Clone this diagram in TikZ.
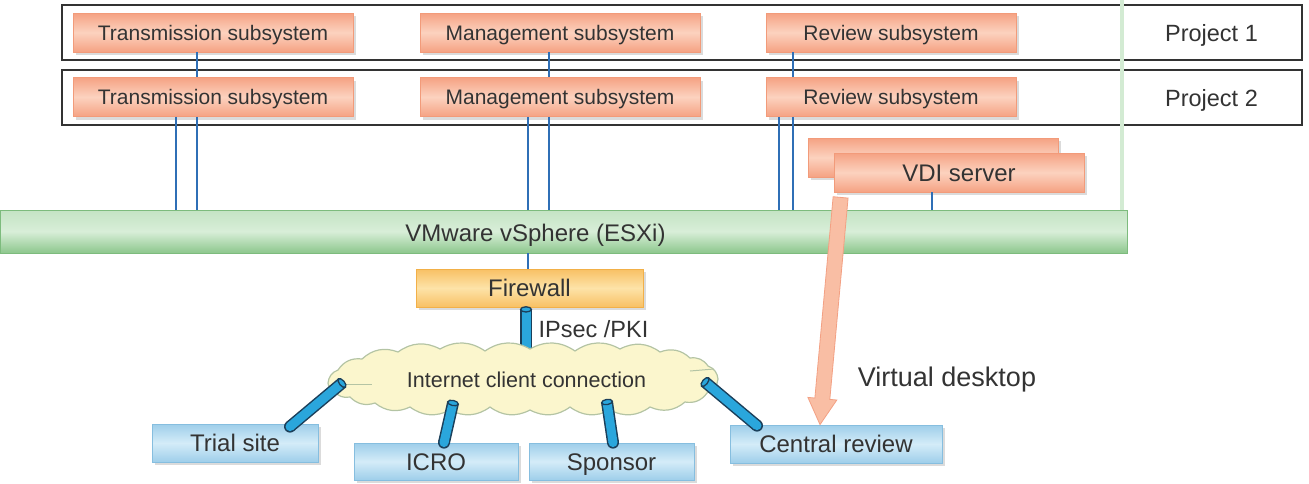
\documentclass[tikz,border=0pt]{standalone}
\usepackage{fontspec}
\setmainfont{Liberation Sans}
\usetikzlibrary{shadows,calc,arrows.meta}
\definecolor{salD}{HTML}{F5A283}
\definecolor{salL}{HTML}{FCD2BF}
\definecolor{salB}{HTML}{F29B7A}
\definecolor{bluD}{HTML}{9ECEEA}
\definecolor{bluL}{HTML}{D4ECF8}
\definecolor{bluB}{HTML}{86BEDF}
\definecolor{grnT}{HTML}{C4E3C4}
\definecolor{grnL}{HTML}{D8EED8}
\definecolor{grnD}{HTML}{8DC78D}
\definecolor{grnB}{HTML}{7DBB7D}
\definecolor{orD}{HTML}{F8C064}
\definecolor{orL}{HTML}{FDE3A8}
\definecolor{orB}{HTML}{F2B048}
\definecolor{txt}{HTML}{333333}
\definecolor{wirec}{HTML}{2F6FB6}
\definecolor{pipeB}{HTML}{2AA6DC}
\definecolor{pipeD}{HTML}{1B3F5A}
\definecolor{cloudF}{HTML}{FBF6CD}
\definecolor{cloudB}{HTML}{B4C4A4}
\definecolor{vlinec}{HTML}{D3EBD3}
\definecolor{arrF}{HTML}{F9BEA4}
\definecolor{arrB}{HTML}{F3A083}
\tikzset{
  box/.style={rectangle, inner sep=0pt, text=txt,
    drop shadow={shadow xshift=3pt, shadow yshift=-3pt, fill=black!35, opacity=.4}},
  sal/.style={box, draw=salB, line width=.8pt, top color=salD, bottom color=salD,
    middle color=salL, minimum height=39pt, text height=15pt, text depth=0pt,
    font=\fontsize{21}{25}\selectfont},
  vdibox/.style={sal, text height=17.2pt, font=\fontsize{24}{28}\selectfont},
  blu/.style={box, draw=bluB, line width=.8pt, top color=bluD, bottom color=bluD,
    middle color=bluL, minimum height=38pt, text height=17.2pt, text depth=0pt,
    font=\fontsize{24}{28}\selectfont},
  fwbox/.style={box, draw=orB, line width=.8pt, top color=orD, bottom color=orD,
    middle color=orL, minimum height=38pt, text height=17.2pt, text depth=0pt,
    font=\fontsize{24}{28}\selectfont},
  frame/.style={rectangle, draw=txt, line width=2pt, minimum width=1240pt, minimum height=55pt},
  plabel/.style={anchor=base, text=txt, font=\fontsize{23.5}{28}\selectfont},
  wire/.style={draw=wirec, line width=2.5pt},
  gline/.style={draw=vlinec, line width=4pt},
  bump/.style={bend left=32},
}
\newcommand\pipeconn[2]{%
  \draw[line width=12pt, pipeD] (#1) -- (#2);
  \fill[pipeD] (#2) circle (6pt);
  \draw[line width=9pt, pipeB] (#1) -- (#2);
  \fill[pipeB] (#2) circle (4.5pt);
  \draw[fill=pipeB, draw=pipeD, line width=1.3pt] let \p1=(#1), \p2=(#2),
    \n1={atan2(\y2-\y1,\x2-\x1)} in (#1) circle[x radius=2.6pt, y radius=5.4pt, rotate=\n1];
}
\begin{document}
\begin{tikzpicture}[x=1pt, y=-1pt]
\useasboundingbox (0,0) rectangle (1309,483);

% project frames
\node[frame] (p1) at (682,32.5) {};
\node[frame] (p2) at (682,97.5) {};
\node[plabel] (p1l) at (1211.5,41) {Project 1};
\node[plabel] (p2l) at (1211.5,106) {Project 2};

% vSphere bar
\node[rectangle, minimum width=1127pt, minimum height=43pt, inner sep=0pt,
  top color=grnT, bottom color=grnD, middle color=grnL, draw=grnB, line width=.8pt] (bar) at (563.5,231.5) {};
\node[anchor=base, text=txt, font=\fontsize{24}{28}\selectfont] (barl) at (535.5,241) {VMware vSphere (ESXi)};

% green vertical line
\coordinate (gv) at (1122,0);
\draw[gline] (gv) -- (gv |- bar.north);

% subsystems
\node[sal, minimum width=280pt] (t1) at (213,32.5) {Transmission subsystem};
\node[sal, minimum width=280pt] (m1) at (560,32.5) {Management subsystem};
\node[sal, minimum width=250pt] (r1) at (891,32.5) {Review subsystem};
\node[sal, minimum width=280pt] (t2) at (213,97) {Transmission subsystem};
\node[sal, minimum width=280pt] (m2) at (560,97) {Management subsystem};
\node[sal, minimum width=250pt] (r2) at (891,97) {Review subsystem};

% VDI servers
\node[sal, minimum width=250pt] (vdib) at (933,157.5) {};
\node[vdibox, minimum width=250pt] (vdi) at (959,172.5) {VDI server};

% wires between rows
\draw[wire] ([xshift=-16pt]t1.south) -- ([xshift=-16pt]t2.north);
\draw[wire] ([xshift=-11pt]m1.south) -- ([xshift=-11pt]m2.north);
\draw[wire] ([xshift=-98pt]r1.south) -- ([xshift=-98pt]r2.north);
% wires to bar
\coordinate (w1) at ([xshift=-37pt]t2.south);
\coordinate (w2) at ([xshift=-16pt]t2.south);
\coordinate (w3) at ([xshift=-32pt]m2.south);
\coordinate (w4) at ([xshift=-11pt]m2.south);
\coordinate (w5) at ([xshift=-112pt]r2.south);
\coordinate (w6) at ([xshift=-98pt]r2.south);
\coordinate (w7) at ([xshift=-27pt]vdi.south);
\foreach \w in {w1,w2,w3,w4,w5,w6,w7} \draw[wire] (\w) -- (\w |- bar.north);

% firewall
\node[fwbox, minimum width=227pt] (fw) at (529.5,288) {Firewall};
\coordinate (w8) at ([xshift=-1.5pt]fw.north);
\draw[wire] (w8 |- bar.south) -- (w8);

% firewall pipe (behind cloud)
\coordinate (fpa) at ($(fw.south)+(-3.5,2)$);
\coordinate (fpb) at (526,354);
\pipeconn{fpa}{fpb}
\node[anchor=base, text=txt, font=\fontsize{23.5}{28}\selectfont] (ipsec) at (593.5,337) {IPsec /PKI};

% cloud
\coordinate (cl) at (522,378);
\draw[fill=cloudF, draw=cloudB, line width=1.2pt]
  (328,383) to[bump] (338,370) to[bump] (362,359) to[bump] (398,352)
  to[bump] (440,349) to[bump] (485,351) to[bump] (530,349) to[bump] (575,351)
  to[bump] (620,349) to[bump] (660,352) to[bump] (690,358) to[bump] (708,366)
  to[bump] (718,379) to[bump] (707,393) to[bump] (685,402) to[bump] (650,407)
  to[bump] (610,410) to[bump] (570,407) to[bump] (530,410) to[bump] (490,407)
  to[bump] (450,410) to[bump] (410,407) to[bump] (375,403) to[bump] (350,397)
  to[bump] (334,391) to[bump] (328,383) -- cycle;
\draw[cloudB, line width=1pt] (346,384) -- (372,384);
\draw[cloudB, line width=1pt] (690,371) -- (714,369);
\node[anchor=base, text=txt, font=\fontsize{21.5}{26}\selectfont] (cltxt) at (526.5,387) {Internet client connection};

% clients
\node[blu, minimum width=166pt] (trial) at (235,443) {Trial site};
\node[blu, minimum width=164pt, minimum height=37pt] (icro) at (436,461.5) {ICRO};
\node[blu, minimum width=165pt, minimum height=37pt] (spon) at (611.5,461.5) {Sponsor};
\node[blu, minimum width=212pt] (cent) at (836,444) {Central review};

% client pipes
\coordinate (ta) at ($(cl)+(-180,5)$);
\coordinate (tb) at ($(trial.north)+(55,3)$);
\coordinate (ia) at ($(cl)+(-69,25)$);
\coordinate (ib) at ($(icro.north)+(8,0)$);
\coordinate (sa) at ($(cl)+(85,24)$);
\coordinate (sb) at ($(spon.north)+(1.5,0)$);
\coordinate (ca) at ($(cl)+(183,4)$);
\coordinate (cb) at ($(cent.north)+(-79,1)$);
\pipeconn{ta}{tb}
\pipeconn{ia}{ib}
\pipeconn{sa}{sb}
\pipeconn{ca}{cb}

% virtual desktop arrow
\coordinate (as) at ($(vdi.south west)+(7,5)$);
\coordinate (ae) at ($(cent.north)+(-16,0)$);
\coordinate (ah) at ($(ae)!26pt!(as)$);
\filldraw[fill=arrF, draw=arrB, line width=.8pt]
  ($(as)!7.5pt!90:(ae)$) -- ($(ah)!7.5pt!90:(ae)$) -- ($(ah)!14.5pt!90:(ae)$) -- (ae)
  -- ($(ah)!14.5pt!-90:(ae)$) -- ($(ah)!7.5pt!-90:(ae)$) -- ($(as)!7.5pt!-90:(ae)$) -- cycle;
\node[anchor=base, text=txt, font=\fontsize{27}{32}\selectfont] (vdl) at (947,386) {Virtual desktop};
\end{tikzpicture}
\end{document}
